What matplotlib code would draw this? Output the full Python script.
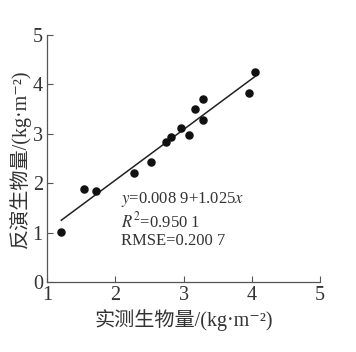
import numpy as np
import matplotlib
matplotlib.use('Agg')
import matplotlib.pyplot as plt

measured = [1.21, 1.54, 1.72, 2.28, 2.52, 2.74, 2.82, 2.96, 3.08, 3.17, 3.28, 3.29, 3.96, 4.05]
retrieved = [1.01, 1.89, 1.85, 2.21, 2.43, 2.84, 2.93, 3.11, 2.98, 3.49, 3.27, 3.70, 3.83, 4.25]

# fit coefficients as printed
intercept = 0.0089
slope = 1.025
xticks = [1, 2, 3, 4, 5]
yticks = [0, 1, 2, 3, 4, 5]

plt.rcParams['mathtext.fontset'] = 'stix'
serif = ['Liberation Serif', 'Noto Sans CJK SC', 'DejaVu Serif']
txt = '#333333'

fig = plt.figure(figsize=(3.56, 3.52), dpi=100)
ax = fig.add_axes([0.132, 0.199, 0.767, 0.702])

ax.scatter(measured, retrieved, s=26, color='#111111', zorder=3)
xfit = np.array([min(measured), max(measured)])
ax.plot(xfit, intercept + slope * xfit, color='#222222', lw=1.1)

ax.set_xlim(1, 5)
ax.set_ylim(0, 5)
ax.set_xticks(xticks)
ax.set_yticks(yticks)
ax.tick_params(direction='in', length=4, width=0.8, color='#555555',
               labelsize=14.5, labelcolor=txt, pad=3)
for lab in ax.get_xticklabels() + ax.get_yticklabels():
    lab.set_family(serif)
for s in ['top', 'right']:
    ax.spines[s].set_visible(False)
for s in ['left', 'bottom']:
    ax.spines[s].set_color('#555555')
    ax.spines[s].set_linewidth(0.9)

ax.set_xlabel('实测生物量/(kg·m⁻²)', family=serif, fontsize=14.5, color=txt, labelpad=3)
ax.set_ylabel('反演生物量/(kg·m⁻²)', family=serif, fontsize=14.5, color=txt, labelpad=1)

ax.text(2.08, 1.6, '$y$=0.008 9+1.025$x$', family=serif, fontsize=12, color=txt)
ax.text(2.08, 1.11, '$R^2$=0.950 1', family=serif, fontsize=12, color=txt)
ax.text(2.08, 0.74, 'RMSE=0.200 7', family=serif, fontsize=12, color=txt)

fig.savefig('out.png', dpi=100)
